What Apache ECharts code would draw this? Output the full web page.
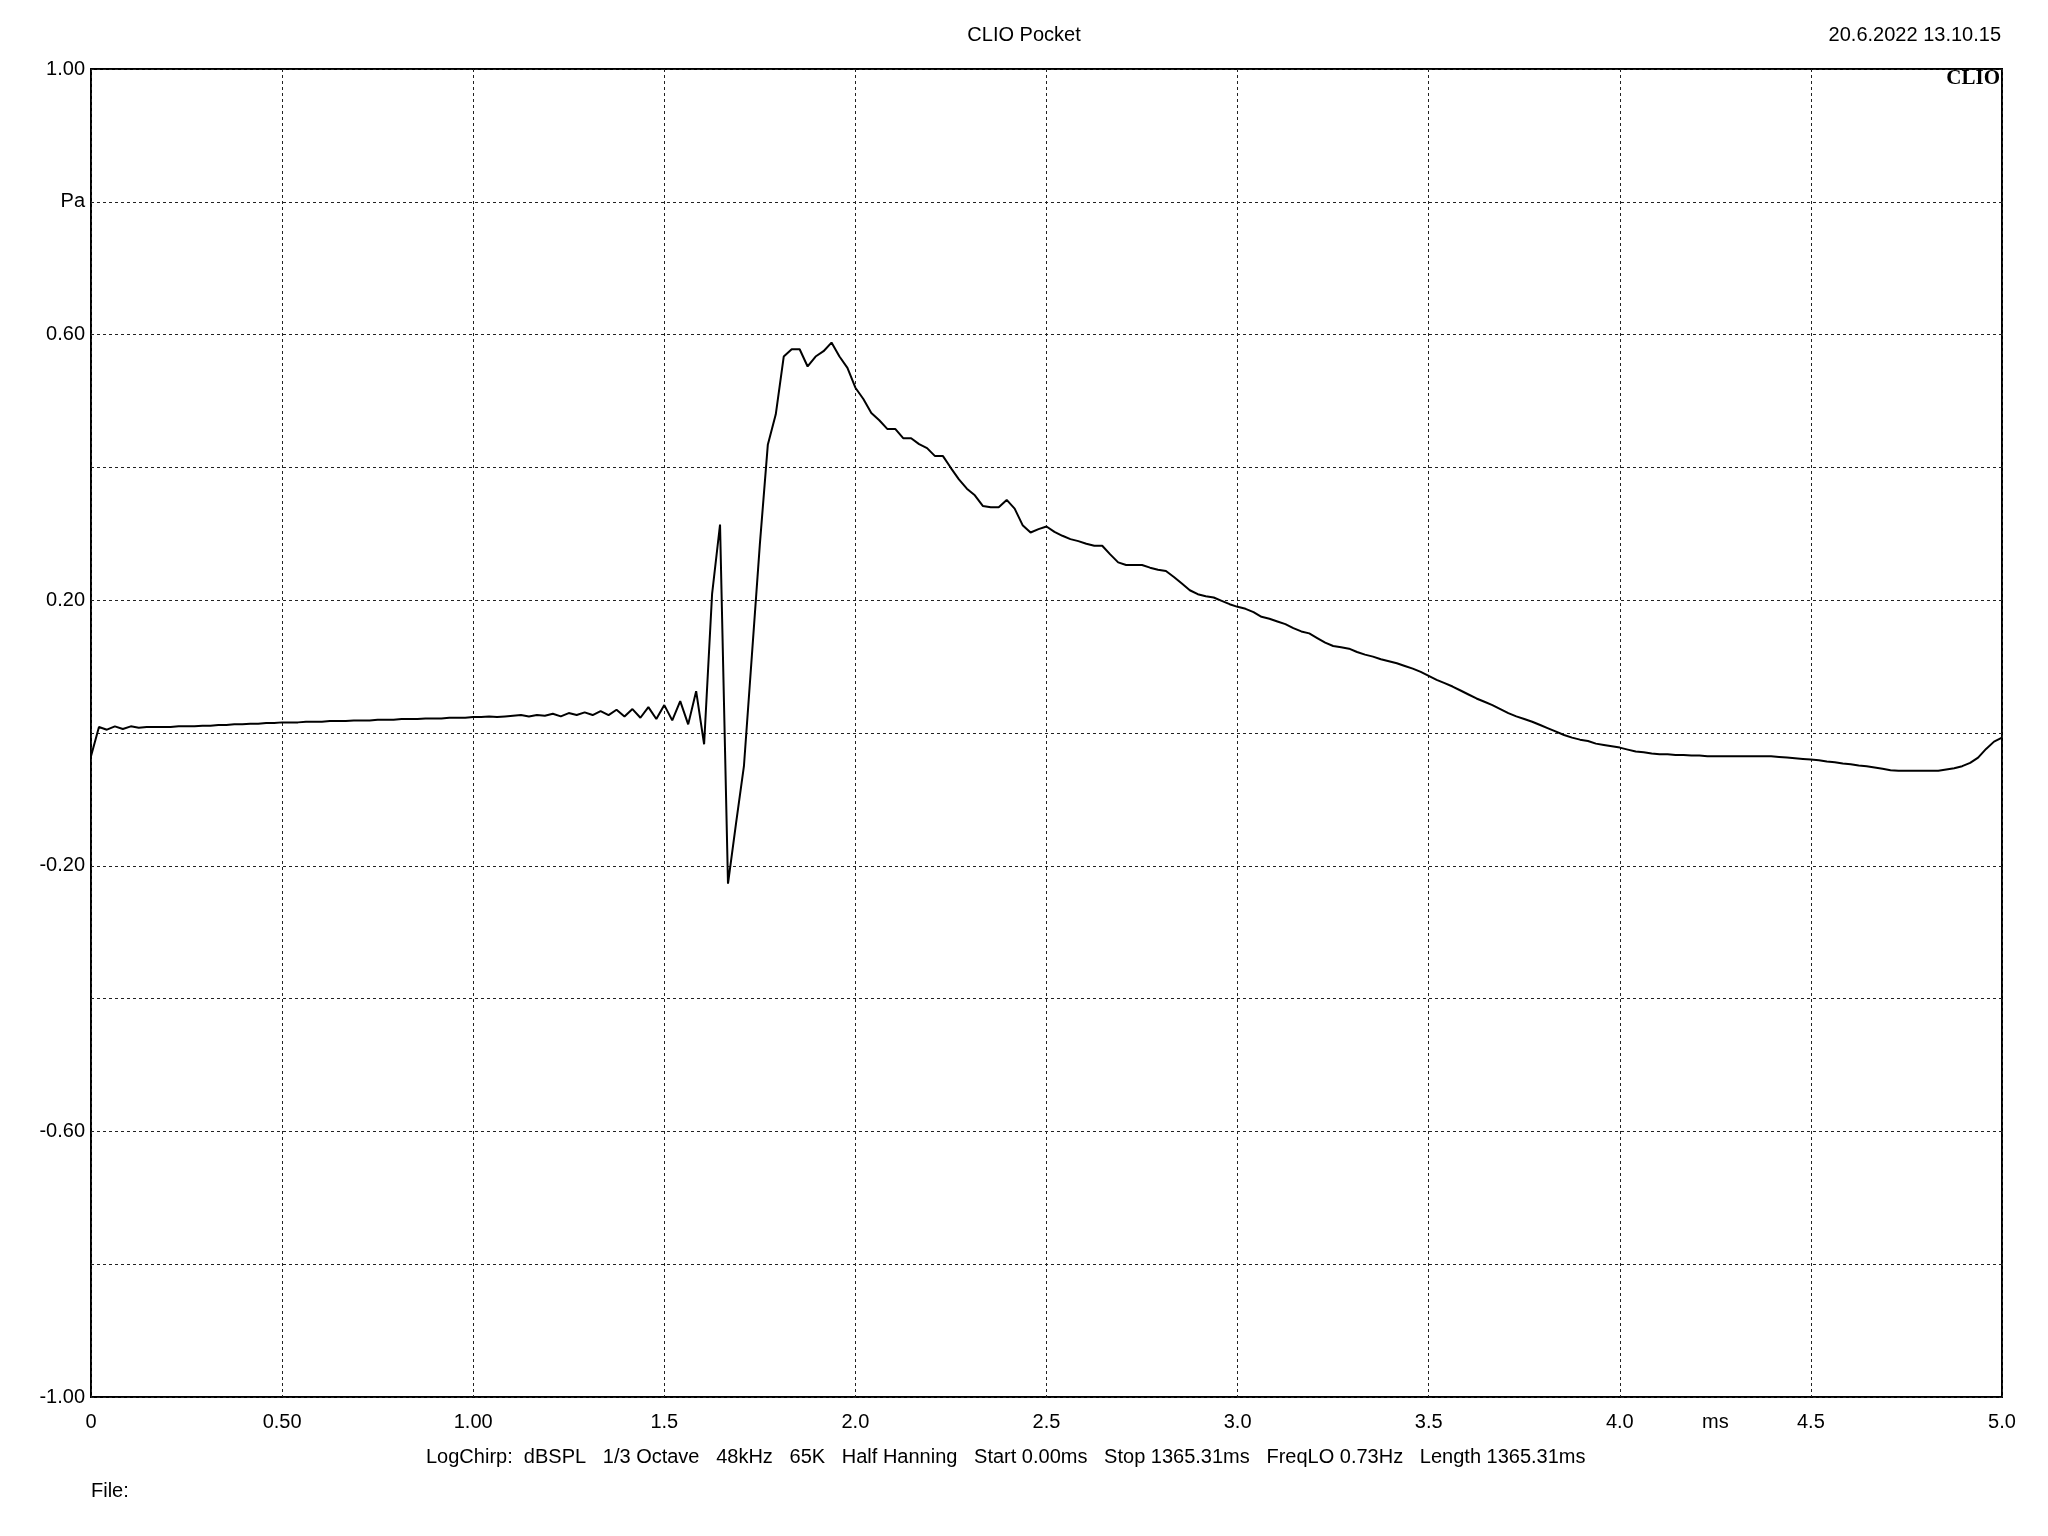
<!DOCTYPE html>
<html>
<head>
<meta charset="utf-8">
<script src="https://cdn.jsdelivr.net/npm/echarts@6/dist/echarts.min.js"></script>
<style>
html,body{margin:0;padding:0;background:#fff;}
#c{width:2048px;height:1536px;}
</style>
</head>
<body>
<div id="c"></div>
<script>
// Impulse response samples (Pa), one sample every 1/48 ms (48 kHz), t = 0 .. 5 ms
const sampleRateKHz = 48;
const pressurePa = [
 -0.035, 0.009, 0.005, 0.010, 0.006, 0.010, 0.008, 0.009, 0.009, 0.009,
  0.009, 0.010, 0.010, 0.010, 0.011, 0.011, 0.012, 0.012, 0.013, 0.013,
  0.014, 0.014, 0.015, 0.015, 0.016, 0.016, 0.016, 0.017, 0.017, 0.017,
  0.018, 0.018, 0.018, 0.019, 0.019, 0.019, 0.020, 0.020, 0.020, 0.021,
  0.021, 0.021, 0.022, 0.022, 0.022, 0.023, 0.023, 0.023, 0.024, 0.024,
  0.025, 0.024, 0.025, 0.026, 0.027, 0.025, 0.027, 0.026, 0.029, 0.025,
  0.030, 0.027, 0.031, 0.027, 0.033, 0.027, 0.035, 0.025, 0.036, 0.023,
  0.039, 0.021, 0.042, 0.019, 0.048, 0.013, 0.063, -0.017, 0.209, 0.314,
 -0.227, -0.137, -0.050, 0.117, 0.284, 0.434, 0.480, 0.567, 0.578, 0.578,
  0.552, 0.567, 0.575, 0.588, 0.567, 0.550, 0.520, 0.503, 0.482, 0.471,
  0.458, 0.458, 0.444, 0.444, 0.435, 0.429, 0.417, 0.417, 0.399, 0.382,
  0.368, 0.358, 0.342, 0.340, 0.340, 0.351, 0.338, 0.313, 0.302, 0.307,
  0.311, 0.303, 0.297, 0.292, 0.289, 0.285, 0.282, 0.282, 0.269, 0.257,
  0.253, 0.253, 0.253, 0.249, 0.246, 0.244, 0.235, 0.225, 0.215, 0.209,
  0.206, 0.204, 0.199, 0.194, 0.190, 0.187, 0.182, 0.175, 0.172, 0.168,
  0.164, 0.158, 0.153, 0.150, 0.143, 0.136, 0.131, 0.129, 0.127, 0.122,
  0.118, 0.115, 0.111, 0.108, 0.105, 0.101, 0.097, 0.092, 0.086, 0.080,
  0.075, 0.070, 0.064, 0.058, 0.052, 0.047, 0.042, 0.036, 0.030, 0.025,
  0.021, 0.017, 0.012, 0.007, 0.002, -0.003, -0.007, -0.010, -0.012, -0.016,
 -0.018, -0.020, -0.022, -0.025, -0.028, -0.029, -0.031, -0.032, -0.032, -0.033,
 -0.033, -0.034, -0.034, -0.035, -0.035, -0.035, -0.035, -0.035, -0.035, -0.035,
 -0.035, -0.035, -0.036, -0.037, -0.038, -0.039, -0.040, -0.041, -0.043, -0.044,
 -0.046, -0.047, -0.049, -0.050, -0.052, -0.054, -0.056, -0.057, -0.057, -0.057,
 -0.057, -0.057, -0.057, -0.055, -0.053, -0.050, -0.045, -0.037, -0.024, -0.013,
 -0.007
];
const xTickLabels = ['0','0.50','1.00','1.5','2.0','2.5','3.0','3.5','4.0','4.5','5.0'];
const yTickLabels = ['-1.00','','-0.60','','-0.20','','0.20','','0.60','Pa','1.00'];
const xUnit = 'ms';
const xUnitAt = 4.25;
const titleText = 'CLIO Pocket';
const dateText = '20.6.2022 13.10.15';
const logoText = 'CLIO';
const infoText = 'LogChirp:  dBSPL   1/3 Octave   48kHz   65K   Half Hanning   Start 0.00ms   Stop 1365.31ms   FreqLO 0.73Hz   Length 1365.31ms';
const fileText = 'File:';

const seriesData = pressurePa.map((v, i) => [i / sampleRateKHz, v]);

const FONT = '"Liberation Sans", Arial, sans-serif';
const FS = 20;
const chart = echarts.init(document.getElementById('c'), null, {renderer: 'canvas'});
const gridDef = {left: 91, top: 69, width: 1911, height: 1328};

chart.setOption({
  animation: false,
  backgroundColor: '#fff',
  grid: Object.assign({show: true, borderColor: '#000', borderWidth: 2, backgroundColor: 'transparent'}, gridDef),
  xAxis: {
    type: 'value', min: 0, max: 5, interval: 0.5,
    axisLine: {show: false}, axisTick: {show: false},
    axisLabel: {
      color: '#000', fontFamily: FONT, fontSize: FS, margin: 15,
      formatter: v => xTickLabels[Math.round(v / 0.5)]
    },
    splitLine: {show: true, lineStyle: {color: '#222', width: 1, type: [3, 3]}}
  },
  yAxis: {
    type: 'value', min: -1, max: 1, interval: 0.2,
    axisLine: {show: false}, axisTick: {show: false},
    axisLabel: {
      color: '#000', fontFamily: FONT, fontSize: FS, margin: 6,
      formatter: v => yTickLabels[Math.round((v + 1) / 0.2)]
    },
    splitLine: {show: true, lineStyle: {color: '#222', width: 1, type: [3, 3]}}
  },
  series: [{
    type: 'line', data: seriesData, showSymbol: false, symbol: 'none',
    lineStyle: {color: '#000', width: 2}, z: 5
  }]
});

const unitX = chart.convertToPixel({xAxisIndex: 0}, xUnitAt);
chart.setOption({
  graphic: [
    {type: 'text', x: 1024, y: 35, style: {text: titleText, font: FS + 'px ' + FONT, fill: '#000', align: 'center', verticalAlign: 'middle'}},
    {type: 'text', x: 2001, y: 35, style: {text: dateText, font: FS + 'px ' + FONT, fill: '#000', align: 'right', verticalAlign: 'middle'}},
    {type: 'text', x: 2000, y: 79, z: 10, style: {text: logoText, font: 'bold 21px "Liberation Serif", "DejaVu Serif", serif', fill: '#000', align: 'right', verticalAlign: 'middle'}},
    {type: 'text', x: unitX, y: 1422, style: {text: xUnit, font: FS + 'px ' + FONT, fill: '#000', align: 'center', verticalAlign: 'middle'}},
    {type: 'text', x: 426, y: 1457, style: {text: infoText, font: FS + 'px ' + FONT, fill: '#000', align: 'left', verticalAlign: 'middle'}},
    {type: 'text', x: 91, y: 1491, style: {text: fileText, font: FS + 'px ' + FONT, fill: '#000', align: 'left', verticalAlign: 'middle'}}
  ]
});
</script>
</body>
</html>
